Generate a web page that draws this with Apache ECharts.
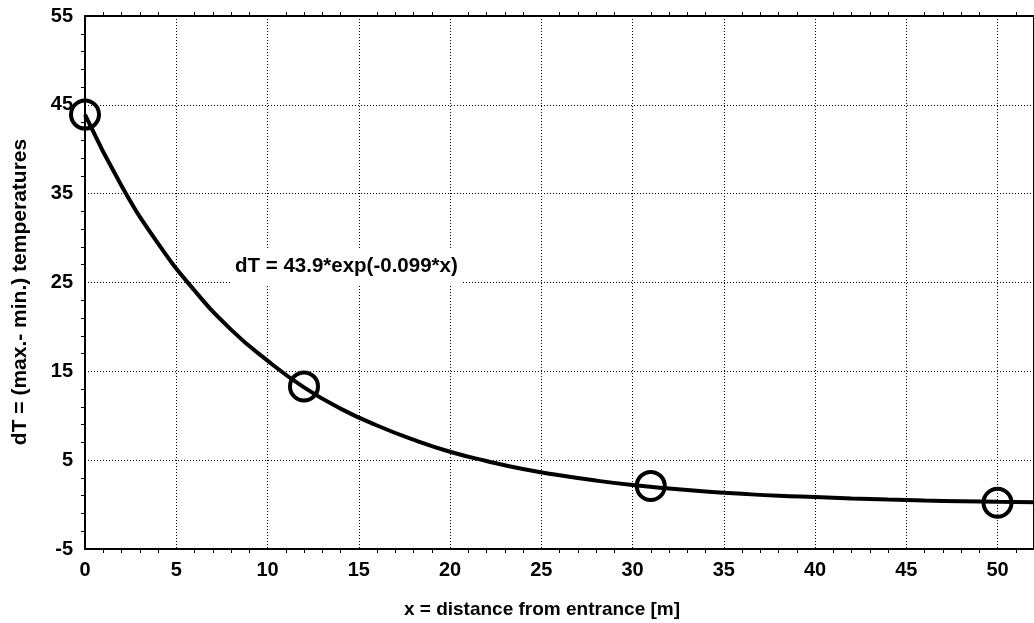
<!DOCTYPE html>
<html>
<head>
<meta charset="utf-8">
<script src="https://cdn.jsdelivr.net/npm/echarts@6/dist/echarts.min.js"></script>
<style>
html,body{margin:0;padding:0;background:#fff;}
#chart{width:1034px;height:623px;}
</style>
</head>
<body>
<div id="chart"></div>
<script>
// Measured points
const pointX = [0, 12, 31, 50];
const pointY = [43.9, 13.3, 2.1, 0.2];
// Fitted curve
const curveX = [0, 2, 4, 6, 8, 10, 12, 14, 16, 18, 20, 22, 24, 26, 28, 30, 32, 34, 36, 38, 40, 42, 44, 46, 48, 50, 52];
const curveY = [43.9, 35.9, 29.4, 24.1, 19.7, 16.2, 13.2, 10.8, 8.9, 7.3, 5.95, 4.9, 4.0, 3.3, 2.7, 2.2, 1.8, 1.47, 1.21, 0.99, 0.84, 0.69, 0.56, 0.46, 0.38, 0.31, 0.26];
const xTitle = 'x = distance from entrance [m]';
const yTitle = 'dT = (max.- min.) temperatures';
const fitLabel = 'dT = 43.9*exp(-0.099*x)';

const FONT = '"Liberation Sans", Arial, sans-serif';
const chart = echarts.init(document.getElementById('chart'), null, {renderer: 'canvas'});

const gridLine = {show: true, lineStyle: {color: '#000', width: 1, type: [1, 2]}};
const axisLine = {show: true, onZero: false, lineStyle: {color: '#000', width: 2}};
const minorTick = {show: true, splitNumber: 5, length: 4, lineStyle: {color: '#000', width: 1}};

const option = {
  backgroundColor: '#fff',
  animation: false,
  grid: {left: 85, top: 16, width: 954, height: 533, containLabel: false},
  xAxis: [{
    type: 'value', min: 0, max: 52, interval: 5, position: 'bottom',
    axisLine: axisLine,
    axisTick: {show: false},
    minorTick: Object.assign({}, minorTick, {inside: true}),
    splitLine: gridLine,
    axisLabel: {color: '#000', fontSize: 20, fontWeight: 'bold', fontFamily: FONT, margin: 11,
      showMaxLabel: false}
  }, {
    type: 'value', min: 0, max: 52, interval: 5, position: 'top',
    axisLine: axisLine,
    axisTick: {show: false},
    minorTick: Object.assign({}, minorTick, {inside: true}),
    splitLine: {show: false},
    axisLabel: {show: false}
  }],
  yAxis: [{
    type: 'value', min: -5, max: 55, interval: 10, position: 'left',
    axisLine: axisLine,
    axisTick: {show: false},
    minorTick: Object.assign({}, minorTick, {inside: true}),
    splitLine: gridLine,
    axisLabel: {color: '#000', fontSize: 20, fontWeight: 'bold', fontFamily: FONT, margin: 12}
  }, {
    type: 'value', min: -5, max: 55, interval: 10, position: 'right',
    axisLine: axisLine,
    axisTick: {show: false},
    splitLine: {show: false},
    axisLabel: {show: false}
  }],
  series: [{
    type: 'line',
    xAxisIndex: 0, yAxisIndex: 0,
    data: curveX.map((x, i) => [x, curveY[i]]),
    smooth: true,
    showSymbol: false,
    lineStyle: {color: '#000', width: 4},
    z: 3
  }, {
    type: 'scatter',
    xAxisIndex: 0, yAxisIndex: 0,
    data: pointX.map((x, i) => [x, pointY[i]]),
    symbol: 'circle',
    symbolSize: 28,
    itemStyle: {color: 'rgba(0,0,0,0)', borderColor: '#000', borderWidth: 4, opacity: 1},
    z: 4
  }],
  graphic: [{
    type: 'rect', z: 5,
    shape: {x: 230, y: 250, width: 233, height: 35},
    style: {fill: '#fff'}
  }, {
    type: 'text', z: 6,
    x: 235, y: 266,
    style: {text: fitLabel, fill: '#000', font: 'bold 20.5px ' + FONT, textAlign: 'left', textVerticalAlign: 'middle'}
  }, {
    type: 'text', z: 6,
    x: 542, y: 610,
    style: {text: xTitle, fill: '#000', font: 'bold 19px ' + FONT, textAlign: 'center', textVerticalAlign: 'middle'}
  }, {
    type: 'text', z: 6,
    x: 20, y: 292, rotation: Math.PI / 2,
    style: {text: yTitle, fill: '#000', font: 'bold 21px ' + FONT, textAlign: 'center', textVerticalAlign: 'middle'}
  }]
};
chart.setOption(option);
</script>
</body>
</html>
